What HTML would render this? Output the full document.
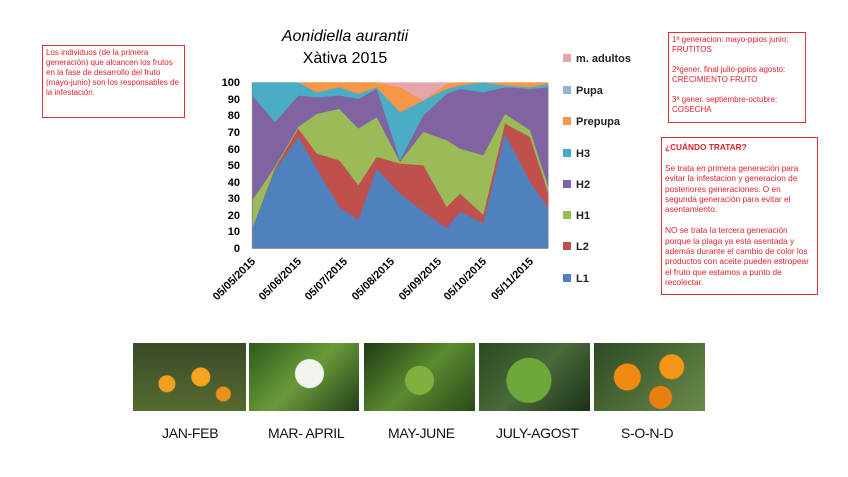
<!DOCTYPE html>
<html><head><meta charset="utf-8"><style>
body{margin:0;width:848px;height:477px;background:#fff;position:relative;overflow:hidden;font-family:"Liberation Sans",sans-serif}
.box{position:absolute;border:1px solid #e0303a;color:#e0202a;font-size:8px;line-height:10px;padding:2px 3px;box-sizing:border-box}
.ph{position:absolute;top:343px;height:68px;overflow:hidden}
.lab{position:absolute;top:425px;font-size:14px;color:#111;letter-spacing:-0.3px}
</style></head><body>
<div class="box" style="left:42px;top:45px;width:143px;height:73px">Los individuos (de la primera generación) que alcancen los frutos en la fase de desarrollo del fruto (mayo-junio) son los responsables de la infestación.</div>
<div class="box" style="left:668px;top:32px;width:138px;height:91px">1ª generacion: mayo-ppios junio: FRUTITOS<br><br>2ªgener. final julio-ppios agosto: CRECIMIENTO FRUTO<br><br>3ª gener. septiembre-octubre: COSECHA</div>
<div class="box" style="left:661px;top:137px;width:157px;height:158px;padding-top:4px;font-size:8.3px;line-height:10.4px"><b>¿CUÁNDO TRATAR?</b><br><br>Se trata en primera generación para evitar la infestacion y generacion de posteriores generaciones. O en segunda generación para evitar el asentamiento.<br><br>NO se trata la tercera generación porque la plaga ya está asentada y además durante el cambio de color los productos con aceite pueden estropear el fruto que estamos a punto de recolectar.</div>
<svg style="position:absolute;left:0;top:0" width="848" height="477">
<text x="345" y="41" font-size="16" font-style="italic" text-anchor="middle" font-family="Liberation Sans">Aonidiella aurantii</text>
<text x="345" y="63" font-size="16" text-anchor="middle" font-family="Liberation Sans">Xàtiva 2015</text>
<g transform="translate(220,75) scale(0.3333)">
<polygon fill="#e6a4ac" points="97,520 97,22 985,22 985,520"/>
<polygon fill="#f79646" points="97,520 97,22 165,22 235,22 290,22 358,22 415,22 470,22 540,37 610,77 680,27 720,22 790,22 855,22 930,22 985,22 985,520"/>
<polygon fill="#4bacc6" points="97,520 97,22 165,22 235,22 290,52 358,37 415,57 470,37 540,112 610,77 680,42 720,32 790,22 855,32 930,37 985,27 985,520"/>
<polygon fill="#8064a2" points="97,520 97,62 165,142 235,62 290,67 358,62 415,72 470,42 540,256 610,122 680,57 720,42 790,52 855,37 930,42 985,37 985,520"/>
<polygon fill="#9bbb59" points="97,520 97,376 165,276 235,156 290,117 358,102 415,161 470,127 540,261 610,171 680,196 720,221 790,241 855,117 930,166 985,336 985,520"/>
<polygon fill="#c0504d" points="97,520 97,460 165,281 235,161 290,236 358,256 415,331 470,246 540,266 610,271 680,396 720,356 790,420 855,146 930,186 985,356 985,520"/>
<polygon fill="#4f81bd" points="97,520 97,460 165,286 235,186 290,281 358,396 415,435 470,281 540,356 610,410 680,460 720,410 790,445 855,176 930,321 985,400 985,520"/>
<line x1="97" y1="520" x2="985" y2="520" stroke="#888" stroke-width="3"/>
<line x1="97" y1="22" x2="97" y2="520" stroke="#888" stroke-width="3"/>
</g>
<g font-size="11" font-weight="bold" text-anchor="end" font-family="Liberation Sans">
<text x="240" y="252">0</text><text x="240" y="235">10</text><text x="240" y="219">20</text><text x="240" y="202">30</text><text x="240" y="186">40</text><text x="240" y="169">50</text><text x="240" y="153">60</text><text x="240" y="136">70</text><text x="240" y="119">80</text><text x="240" y="103">90</text><text x="240" y="86">100</text>
<text transform="translate(256,262) rotate(-45)">05/05/2015</text>
<text transform="translate(302,262) rotate(-45)">05/06/2015</text>
<text transform="translate(348,262) rotate(-45)">05/07/2015</text>
<text transform="translate(395,262) rotate(-45)">05/08/2015</text>
<text transform="translate(442,262) rotate(-45)">05/09/2015</text>
<text transform="translate(487,262) rotate(-45)">05/10/2015</text>
<text transform="translate(534,262) rotate(-45)">05/11/2015</text>
</g>
<g font-size="11" font-weight="bold" font-family="Liberation Sans" fill="#222">
<rect x="563" y="54" width="8" height="8" fill="#e6a4ac"/><text x="576" y="62">m. adultos</text>
<rect x="563" y="86" width="8" height="8" fill="#95b3d7"/><text x="576" y="94">Pupa</text>
<rect x="563" y="117" width="8" height="8" fill="#f79646"/><text x="576" y="125">Prepupa</text>
<rect x="563" y="149" width="8" height="8" fill="#4bacc6"/><text x="576" y="157">H3</text>
<rect x="563" y="180" width="8" height="8" fill="#8064a2"/><text x="576" y="188">H2</text>
<rect x="563" y="211" width="8" height="8" fill="#9bbb59"/><text x="576" y="219">H1</text>
<rect x="563" y="242" width="8" height="8" fill="#c0504d"/><text x="576" y="250">L2</text>
<rect x="563" y="274" width="8" height="8" fill="#4f81bd"/><text x="576" y="282">L1</text>
</g>
</svg>
<div class="ph" style="left:133px;width:113px;background:radial-gradient(circle at 30% 60%,#f0a020 0 8px,transparent 9px),radial-gradient(circle at 60% 50%,#f5a520 0 9px,transparent 10px),radial-gradient(circle at 80% 75%,#e89018 0 7px,transparent 8px),linear-gradient(#3a4a2a,#556b2f)"></div>
<div class="ph" style="left:249px;width:110px;background:radial-gradient(circle at 55% 45%,#f4f4ee 0 14px,transparent 15px),linear-gradient(135deg,#2e5a1c,#6a9a3a,#23401a)"></div>
<div class="ph" style="left:364px;width:111px;background:radial-gradient(circle at 50% 55%,#7fb040 0 14px,transparent 15px),linear-gradient(135deg,#1e3a14,#5a8a30,#2a4a1a)"></div>
<div class="ph" style="left:479px;width:111px;background:radial-gradient(circle at 45% 55%,#6fa83a 0 22px,transparent 23px),linear-gradient(135deg,#2a4a20,#4a6a3a,#1a3018)"></div>
<div class="ph" style="left:594px;width:111px;background:radial-gradient(circle at 30% 50%,#f08a10 0 13px,transparent 14px),radial-gradient(circle at 70% 35%,#f59518 0 12px,transparent 13px),radial-gradient(circle at 60% 80%,#e88010 0 11px,transparent 12px),linear-gradient(135deg,#2e4a22,#6a8a4a)"></div>
<div class="lab" style="left:162px">JAN-FEB</div>
<div class="lab" style="left:268px">MAR- APRIL</div>
<div class="lab" style="left:388px">MAY-JUNE</div>
<div class="lab" style="left:496px">JULY-AGOST</div>
<div class="lab" style="left:621px">S-O-N-D</div>
</body></html>
